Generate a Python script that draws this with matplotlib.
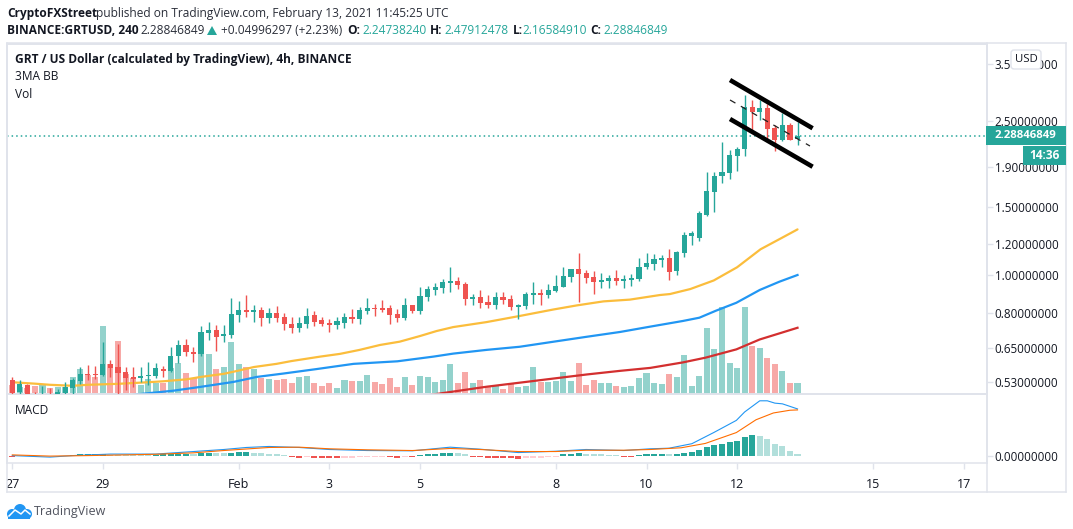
import matplotlib
matplotlib.use("Agg")
import matplotlib.pyplot as plt
from matplotlib.patches import Rectangle, FancyBboxPatch, Circle, Polygon
from matplotlib.transforms import Bbox
from matplotlib.ticker import NullLocator, FixedLocator, FixedFormatter

opens = [.536,.498,.520,.490,.482,.490,.485,.4965,.5115,.533,.556,.556,.552,.590,.579,.562,.546,.543,.549,.549,
 .572,.566,.618,.660,.633,.626,.709,.721,.696,.700,.7885,.812,.803,.812,.775,.798,.779,.7475,.730,.7475,
 .7885,.765,.752,.743,.752,.779,.770,.8075,.822,.822,.822,.793,.775,.837,.8075,.8775,.915,.926,.954,.965,
 .948,.867,.8775,.852,.837,.8775,.867,.827,.832,.888,.899,.888,.909,.931,.988,1.036,1.012,.988,.959,.965,
 .982,.965,.971,.9765,1.049,1.068,1.093,1.106,1.024,1.140,1.261,1.246,1.428,1.638,1.800,1.833,2.026,2.112,
 2.712,2.632,2.696,2.394,2.228,2.437,2.2473824]
closes = [.496,.523,.492,.482,.490,.482,.4995,.5145,.536,.556,.551,.551,.590,.576,.559,.543,.5395,.549,.552,.576,
 .566,.618,.660,.633,.626,.713,.721,.692,.7045,.793,.812,.803,.812,.775,.798,.775,.7475,.730,.752,.784,
 .756,.7475,.743,.761,.779,.770,.812,.822,.817,.812,.7885,.775,.837,.8075,.883,.920,.931,.959,.965,.942,
 .867,.8775,.847,.837,.8775,.862,.827,.837,.893,.899,.888,.915,.937,.994,1.036,1.006,.982,.959,.971,.982,
 .965,.9765,.982,1.049,1.074,1.100,1.106,1.018,1.146,1.268,1.283,1.445,1.647,1.800,1.843,2.039,2.112,2.712,
 2.632,2.696,2.380,2.228,2.437,2.228,2.28846849]
highs = [.545,.536,.524,.4995,.518,.511,.507,.530,.543,.579,.586,.583,.672,.604,.664,.579,.579,.579,.597,.593,
 .583,.652,.680,.684,.652,.739,.756,.743,.743,.872,.857,.888,.837,.827,.822,.832,.798,.779,.779,.822,
 .8075,.779,.768,.778,.797,.817,.827,.872,.842,.862,.837,.817,.872,.837,.931,.937,.954,.9765,1.049,.988,
 .959,.893,.915,.888,.904,.904,.888,.842,.904,.959,.920,.948,1.0,1.049,1.036,1.140,1.030,1.024,1.012,1.0,
 1.030,1.0,1.006,1.106,1.140,1.133,1.126,1.167,1.153,1.291,1.299,1.462,1.843,1.843,2.203,2.101,2.139,2.913,
 2.827,2.827,2.761,2.437,2.617,2.467,2.47912478]
lows = [.49,.49,.485,.475,.475,.475,.48,.488,.488,.524,.536,.5395,.549,.546,.488,.505,.5145,.530,.521,.543,
 .546,.562,.593,.618,.597,.618,.680,.637,.672,.688,.756,.779,.756,.739,.752,.756,.721,.709,.713,.730,
 .739,.739,.713,.726,.730,.752,.7475,.793,.784,.803,.7475,.756,.765,.798,.793,.857,.888,.899,.904,.920,
 .837,.837,.822,.822,.817,.842,.812,.770,.817,.842,.837,.872,.904,.931,.959,.852,.954,.893,.926,.926,
 .942,.926,.937,.965,1.036,1.030,1.049,.971,1.0,1.113,1.195,1.224,1.420,1.454,1.727,1.769,1.855,2.026,
 2.365,2.510,2.242,2.089,2.215,2.228,2.1658491]
volumes = [9,7,6,8,9,6,7,7,17,25,19,17,68,30,53,20,16,9,15,11,11,26,31,21,16,52,40,25,27,52,30,27,25,16,15,14,15,11,17,18,
 11,8,11,6,14,13,13,19,12,10,16,7,17,9,18,17,12,14,30,11,22,11,14,7,8,5,10,7,8,27,12,12,13,22,13,31,9,14,11,11,
 8,7,8,16,21,11,10,20,17,39,8,18,66,45,87,31,26,87,48,46,36,30,23,11,11]

yellow_idx = [0,3,5,8,10,14,18,20,23,25,28,30,32,35,37,40.8,43.4,46,48.7,51.3,54,56.2,58.4,62.8,67.2,71.7,74.8,78.3,81.8,85.8,87.1,89.8,92.9,96,99.1,101.8,104]
yellow_val = [.529,.5245,.521,.518,.521,.524,.529,.532,.538,.546,.556,.567,.579,.590,.600,.616,.626,.641,.660,.673,.696,.717,.734,.756,.784,.815,.835,.855,.864,.888,.893,.920,.968,1.047,1.165,1.243,1.311]
blue_idx = [15,17.3,21.3,24.9,29.3,32.4,35.9,40.3,45.2,51,55.8,58.4,62.8,67.2,71.7,76.1,80.5,84.5,88.8,91,93.2,95.9,99,101.6,104]
blue_val = [.488,.494,.503,.5145,.530,.546,.557,.572,.590,.599,.616,.627,.641,.653,.673,.693,.713,.736,.761,.776,.809,.848,.915,.961,1.0]
red_idx = [54,56.4,62.8,69.4,76.1,80.5,84.5,88.8,91.8,95.9,99,101.6,104]
red_val = [.486,.494,.515,.534,.554,.566,.576,.595,.612,.643,.682,.707,.731]

channel_idx = [95.06,106.0]
channel_top = [3.183,2.390]
channel_bot = [2.525,1.902]
channel_mid_idx = [95.06,105.65]
channel_mid = [2.827,2.151]

macd_hist = [-.005,-.002,-.002,-.002,-.002,-.002,-.002,-.002,.002,.008,.008,.008,.008,.005,.005,.005,.005,.005,.005,.005,
 .01,.01,.01,.01,.01,.015,.015,.015,.015,.015,.02,.02,.015,.015,.01,.01,.005,-.005,-.01,-.005,
 -.01,-.01,-.01,-.01,-.01,-.01,-.005,-.005,-.005,-.005,-.005,-.01,-.005,-.005,.005,.01,.01,.015,.015,.015,
 .01,-.005,-.005,-.01,-.01,-.01,-.01,-.015,-.01,-.01,-.01,-.005,-.005,.01,.01,.015,.01,.01,.01,.005,
 .005,-.005,-.005,.005,.01,.01,.01,.01,.01,.015,.02,.03,.04,.05,.055,.065,.07,.09,.10,.095,.08,.055,.045,.025,.01]
hist_shade = ("R" + "P"*7 + "G"*5 + "L"*6 + "G"*5 + "L" + "GG" + "LL" + "GGG" + "L"*5 + "RR" + "P" + "R"*4 + "P"*6
              + "RR" + "P" + "R" + "G"*5 + "LL" + "R"*7 + "P"*5 + "GGG" + "L"*5 + "RR" + "G"*4 + "L" + "G"*11 + "L"*6)
macd_idx = [0,5,8,13,19,24,28,31,34,38,42,47,53,58,62,67,72,76,81,84.5,87,90,92.9,95.9,97,99,100,101,102,104]
macd_line = [0,-.0075,0,.0075,.0075,.02,.03,.04,.045,.04,.03,.025,.0235,.0415,.0315,.015,.0215,.03,.025,.0335,.0365,.0585,.1135,.1735,.215,.27,.27,.2585,.255,.23]
signal_idx = [0,5,10,19,24,28,34,38,42,47,53,58,62,67,72,76,81,84.5,88.6,91.8,95.9,98.5,100.8,103,104]
signal_line = [.0035,-.0025,0,.0065,.0135,.025,.04,.0415,.0335,.0285,.025,.035,.03,.02,.02,.0265,.0265,.03,.0385,.06,.1135,.1765,.21,.2235,.225]

price_ticks = [3.5,2.5,1.9,1.5,1.2,1.0,.8,.65,.53]
macd_ticks = [0.0]
date_idx = [0,12,30,42,54,72,84,96,114,126]
date_labels = ["27","29","Feb","3","5","8","10","12","15","17"]

GREEN, RED = "#26a69a", "#ef5350"
INK, GRID = "#131722", "#e0e3eb"
FS = 8.6
plt.rcParams["font.family"] = ["Open Sans", "DejaVu Sans"]
W, H = 1073, 529
fig = plt.figure(figsize=(W/100, H/100), dpi=100, facecolor="white")
def pane(l, t, r, b):
    return fig.add_axes([l/W, 1-b/H, (r-l)/W, (b-t)/H])

ax = pane(7, 44, 986.5, 394)
axv = ax.twinx()
axm = pane(7, 394, 986.5, 463)
x = list(range(len(closes)))
xlim = (-0.70, 129.03)

# volume
up = [c >= o for o, c in zip(opens, closes)]
axv.bar(x, volumes, width=0.8, color=["#93d2cc" if u else "#f7a9a7" for u in up], linewidth=0)
axv.set_ylim(0, 350)
axv.yaxis.set_visible(False)
axv.set_zorder(1)
ax.set_zorder(2)
ax.patch.set_visible(False)

# price
ax.set_yscale("log")
ax.axhline(closes[-1], color=GREEN, lw=1.1, ls=(0, (1, 2)), zorder=1)
ax.plot(yellow_idx, yellow_val, color="#fbbd3c", lw=1.6, zorder=2, solid_capstyle="round")
ax.plot(blue_idx, blue_val, color="#2196f3", lw=1.6, zorder=2)
ax.plot(red_idx, red_val, color="#d32f2f", lw=1.6, zorder=2)
cols = [GREEN if u else RED for u in up]
ax.vlines(x, lows, highs, colors=cols, lw=1.0, zorder=3)
ax.bar(x, [abs(c-o) for o, c in zip(opens, closes)], bottom=[min(o, c) for o, c in zip(opens, closes)],
       width=0.68, color=cols, linewidth=0, zorder=4)
ax.plot(channel_idx, channel_top, color="black", lw=3.3, zorder=5, solid_capstyle="butt")
ax.plot(channel_idx, channel_bot, color="black", lw=3.3, zorder=5, solid_capstyle="butt")
ax.plot(channel_mid_idx, channel_mid, color="#222222", lw=0.9, ls=(0, (5, 5)), zorder=5)
ax.set_xlim(xlim)
ax.set_ylim(0.4933, 3.942)
ax.yaxis.tick_right()
ax.yaxis.set_major_locator(FixedLocator(price_ticks))
ax.yaxis.set_major_formatter(FixedFormatter([f"{v:.8f}" for v in price_ticks]))
ax.yaxis.set_minor_locator(NullLocator())
ax.tick_params(axis="y", which="major", length=4, width=1, color=GRID, labelsize=8.4, labelcolor=INK, pad=2)
ax.tick_params(axis="x", which="both", length=0, labelbottom=False)
axv.tick_params(axis="x", length=0, labelbottom=False)

# MACD
shade = {"G": GREEN, "L": "#b2dfdb", "R": RED, "P": "#ffcdd2"}
axm.bar(x, macd_hist, width=0.8, color=[shade[s] for s in hist_shade], linewidth=0, zorder=1)
axm.plot(macd_idx, macd_line, color="#2196f3", lw=0.8, zorder=2)
axm.plot(signal_idx, signal_line, color="#ff6d00", lw=0.8, zorder=3)
axm.set_xlim(xlim)
axm.set_ylim(-0.0365, 0.3035)
axm.yaxis.tick_right()
axm.set_yticks(macd_ticks, [f"{v:.8f}" for v in macd_ticks])
axm.set_xticks(date_idx, date_labels)
axm.tick_params(axis="y", length=4, width=1, color=GRID, labelsize=8.4, labelcolor=INK, pad=2)
axm.tick_params(axis="x", length=4, width=1, color=GRID, labelsize=FS+0.4, labelcolor=INK, pad=7)
fig.canvas.draw()
clip = Bbox.from_extents(7, 0, 987, H)
for lab in axm.get_xticklabels():
    lab.set_clip_box(clip); lab.set_clip_on(True)

for a in (ax, axv, axm):
    for s in a.spines.values():
        s.set_color(GRID); s.set_linewidth(1.1)

# overlay in pixel units
ov = fig.add_axes([0, 0, 1, 1], zorder=10)
ov.set_xlim(0, W); ov.set_ylim(H, 0); ov.axis("off"); ov.patch.set_visible(False)
for (x0, y0, x1, y1) in [(7, 43, 1066, 43), (7, 492, 1066, 492), (7, 43, 7, 492), (1066, 43, 1066, 492), (986.5, 43, 986.5, 492)]:
    ov.plot([x0, x1], [y0, y1], color=GRID, lw=1.1, zorder=1)

def t(px, py, s, color=INK, weight="normal", size=FS, **kw):
    return ov.text(px, py, s, color=color, fontweight=weight, fontsize=size, va="center", ha=kw.pop("ha", "left"), **kw)

t(7, 13, "CryptoFXStreet", weight="bold")
t(96.5, 13, "published on TradingView.com, February 13, 2021 11:45:25 UTC", color="#2a2e39")
t(7, 30, "BINANCE:GRTUSD, 240", weight="bold")
t(140, 30, "2.28846849", color="#2a2e39")
ov.add_patch(Polygon([[207, 35], [217, 35], [212, 26]], color=GREEN, lw=0))
t(221, 30, "+0.04996297 (+2.23%)", color="#2a2e39")
for lx, lab, vx, val in [(347, "O:", 362, "2.24738240"), (430, "H:", 444, "2.47912478"), (513, "L:", 522, "2.16584910"), (590, "C:", 603, "2.28846849")]:
    t(lx, 30, lab, weight="bold")
    t(vx, 30, val, color=GREEN)
t(15, 60, "GRT / US Dollar (calculated by TradingView), 4h, BINANCE", weight="bold")
t(15, 77, "3MA BB")
t(15, 94, "Vol")
t(15, 411, "MACD")

# last-price labels
py = H - ax.transData.transform((0, closes[-1]))[1]
ov.add_patch(Rectangle((986, py-9.5), 80, 19, color=GREEN, lw=0, zorder=3))
t(995, py, f"{closes[-1]:.8f}", color="white", weight="bold", zorder=4, size=8.2)
ov.add_patch(Rectangle((1023, py+10.5), 43, 19, color=GREEN, lw=0, zorder=3))
t(1044.5, py+20, "14:36", color="white", weight="bold", ha="center", zorder=4)
ov.add_patch(FancyBboxPatch((1011, 50), 30, 19, boxstyle="round,pad=0,rounding_size=3", fc="white", ec=GRID, lw=1, zorder=3))
t(1026, 59, "USD", ha="center", zorder=4, size=8.2)

# TradingView logo
for cx, cy, r in [(12, 514, 5), (20, 510, 6), (27, 514, 5)]:
    ov.add_patch(Circle((cx, cy), r, color="#2196f3", lw=0, zorder=2))
ov.add_patch(Rectangle((8, 514), 22, 4.5, color="#2196f3", lw=0, zorder=2))
ov.plot([9, 15, 21, 25, 30], [516, 510, 514, 510, 514], color="white", lw=1.1, zorder=3)
t(34, 511, "TradingView", color="#50535e", size=9)

fig.savefig("out.png", dpi=100)
